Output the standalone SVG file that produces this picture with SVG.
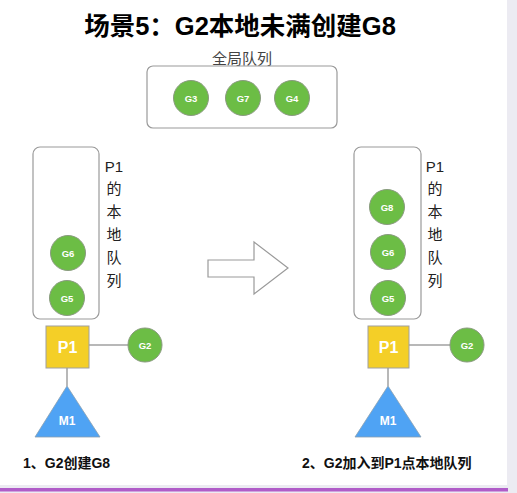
<svg xmlns="http://www.w3.org/2000/svg" width="517" height="493" viewBox="0 0 517 493">
<style>
.t{font-family:"Liberation Sans","Noto Sans CJK SC",sans-serif}
.g circle{fill:#6cbd45;stroke:#8a9a80;stroke-width:1}
.g text{fill:#fff;font-size:9.5px;font-weight:bold;text-anchor:middle}
.box{fill:#fff;stroke:#9a9a9a;stroke-width:1.2}
.p rect{fill:#f4cf27;stroke:#a0a0a0;stroke-width:1}
.p text{fill:#fff;font-size:16px;font-weight:bold;text-anchor:middle}
.m polygon{fill:#4fa3f4;stroke:#8aa0b0;stroke-width:0.8}
.m text{fill:#fff;font-size:12px;font-weight:bold;text-anchor:middle}
.lbl{font-size:15px;fill:#222}
.ln{stroke:#a0a0a0;stroke-width:1.5;fill:none}
.cap{font-size:14px;font-weight:bold;fill:#111}
</style>
<rect x="0" y="0" width="517" height="493" fill="#ecebf2"/>
<rect x="0" y="0" width="507" height="485" fill="#fff"/>
<rect x="0" y="488" width="508" height="3.5" fill="#b05cc8"/>

<text class="t" x="240" y="35" font-size="25.5" font-weight="bold" text-anchor="middle" fill="#000">场景5：G2本地未满创建G8</text>

<g id="global-queue">
<text class="t" x="242" y="64" font-size="15" text-anchor="middle" fill="#444">全局队列</text>
<rect class="box" x="147" y="66" width="190" height="62" rx="6"/>
</g>
<g id="G3" class="g t"><circle cx="191" cy="98" r="17.5"/><text x="191" y="101.5">G3</text></g>
<g id="G7" class="g t"><circle cx="243" cy="98" r="17.5"/><text x="243" y="101.5">G7</text></g>
<g id="G4" class="g t"><circle cx="292" cy="98" r="17.5"/><text x="292" y="101.5">G4</text></g>

<g id="left-local-queue">
<rect class="box" x="33" y="147" width="66" height="172" rx="7"/>
<g class="t lbl" text-anchor="middle">
<text x="114" y="172">P1</text>
<text x="114" y="194">的</text>
<text x="114" y="217">本</text>
<text x="114" y="240">地</text>
<text x="114" y="263">队</text>
<text x="114" y="286">列</text>
</g>
</g>
<g id="L-G6" class="g t"><circle cx="68" cy="253" r="17.5"/><text x="68" y="256.5">G6</text></g>
<g id="L-G5" class="g t"><circle cx="67" cy="298" r="17.5"/><text x="67" y="301.5">G5</text></g>

<g id="right-local-queue">
<rect class="box" x="354" y="147" width="67" height="172" rx="7"/>
<g class="t lbl" text-anchor="middle">
<text x="435" y="172">P1</text>
<text x="435" y="194">的</text>
<text x="435" y="217">本</text>
<text x="435" y="240">地</text>
<text x="435" y="263">队</text>
<text x="435" y="286">列</text>
</g>
</g>
<g id="R-G8" class="g t"><circle cx="387" cy="207" r="17.5"/><text x="387" y="210.5">G8</text></g>
<g id="R-G6" class="g t"><circle cx="388" cy="252" r="17.5"/><text x="388" y="255.5">G6</text></g>
<g id="R-G5" class="g t"><circle cx="388" cy="298" r="17.5"/><text x="388" y="301.5">G5</text></g>

<g id="arrow">
<polygon points="208,260 254,260 254,242 288,268 254,294 254,277 208,277" fill="#fff" stroke="#9a9a9a" stroke-width="1.2"/>
</g>

<g id="connectors">
<line class="ln" x1="89" y1="345" x2="128" y2="345"/>
<line class="ln" x1="67" y1="368" x2="67" y2="386"/>
<line class="ln" x1="409" y1="345" x2="450" y2="345"/>
<line class="ln" x1="388" y1="368" x2="388" y2="386"/>
</g>

<g id="L-P1" class="p t"><rect x="46" y="326" width="43" height="42"/><text x="67.5" y="353">P1</text></g>
<g id="L-G2" class="g t"><circle cx="145" cy="345" r="17"/><text x="145" y="348.5">G2</text></g>
<g id="L-M1" class="m t"><polygon points="67,386 100,437 35,437"/><text x="67" y="425">M1</text></g>

<g id="R-P1" class="p t"><rect x="368" y="326" width="41" height="42"/><text x="388.5" y="353">P1</text></g>
<g id="R-G2" class="g t"><circle cx="467" cy="345" r="17"/><text x="467" y="348.5">G2</text></g>
<g id="R-M1" class="m t"><polygon points="388,386 421,437 355,437"/><text x="388" y="425">M1</text></g>

<text class="t cap" x="23" y="468">1、G2创建G8</text>
<text class="t cap" x="302" y="468">2、G2加入到P1点本地队列</text>
</svg>
